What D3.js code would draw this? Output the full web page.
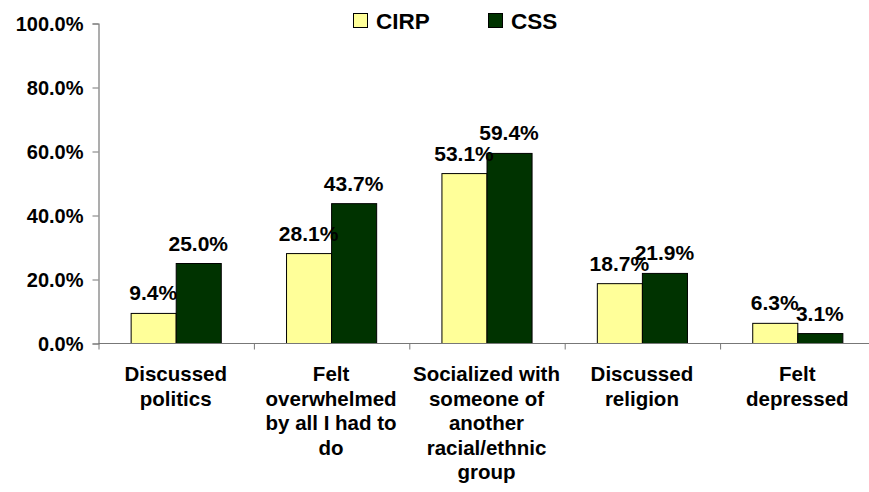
<!DOCTYPE html>
<html>
<head>
<meta charset="utf-8">
<script src="https://cdn.jsdelivr.net/npm/d3@7"></script>
<style>
  html, body { margin: 0; padding: 0; background: #fff; }
  svg text { font-family: Arial, "Liberation Sans", sans-serif; font-weight: bold; fill: #000; }
</style>
</head>
<body>
<svg id="chart" width="869" height="492"></svg>
<script>
const categories = [
  ["Discussed", "politics"],
  ["Felt", "overwhelmed", "by all I had to", "do"],
  ["Socialized with", "someone of", "another", "racial/ethnic", "group"],
  ["Discussed", "religion"],
  ["Felt", "depressed"]
];
const seriesNames = ["CIRP", "CSS"];
const cirpValues = [9.4, 28.1, 53.1, 18.7, 6.3];
const cssValues = [25.0, 43.7, 59.4, 21.9, 3.1];
const yTicks = [0, 20, 40, 60, 80, 100];
const colors = ["#FFFF99", "#003300"];

const svg = d3.select("#chart");
const plotLeft = 98, plotRight = 875, plotTop = 23, plotBottom = 343;

const x = d3.scaleBand().domain(d3.range(categories.length)).range([plotLeft, plotRight])
  .paddingInner(0.42).paddingOuter(0.21);
const xEdge = d3.scaleLinear().domain([0, categories.length]).range([plotLeft, plotRight]);
const xSub = d3.scaleBand().domain(seriesNames).range([0, x.bandwidth()]);
const y = d3.scaleLinear().domain([0, 100]).range([plotBottom, plotTop]);

const data = categories.map((c, i) => ({i, values: [cirpValues[i], cssValues[i]]}));

// bars
const groups = svg.append("g").selectAll("g").data(data).join("g")
  .attr("transform", d => `translate(${x(d.i)},0)`);
groups.selectAll("rect").data(d => d.values.map((v, k) => ({v, k})))
  .join("rect")
  .attr("x", d => xSub(seriesNames[d.k]) + 0.5)
  .attr("y", d => y(d.v) + 0.5)
  .attr("width", xSub.bandwidth())
  .attr("height", d => y(0) - y(d.v))
  .attr("fill", d => colors[d.k])
  .attr("stroke", "#000")
  .attr("stroke-width", 1);

// y axis
const yAxis = d3.axisLeft(y).tickValues(yTicks).tickSize(6).tickPadding(9)
  .tickFormat(d => d.toFixed(1) + "%");
const gy = svg.append("g").attr("transform", `translate(${plotLeft + 0.5},0.5)`).call(yAxis);
gy.select(".domain").attr("stroke", "#777").attr("stroke-width", 1.2);
gy.selectAll(".tick line").attr("stroke", "#777");
gy.selectAll(".tick text").style("font-size", "20px").attr("dy", "0.35em")
  .style("font-family", "Arial, 'Liberation Sans', sans-serif").style("font-weight", "bold");

// x axis line & ticks at category boundaries
const xAxis = d3.axisBottom(xEdge).tickValues(d3.range(categories.length + 1))
  .tickSize(6).tickFormat("");
const gx = svg.append("g").attr("transform", `translate(0.5,${plotBottom + 0.5})`).call(xAxis);
gx.select(".domain").attr("stroke", "#777").attr("stroke-width", 1.2)
  .attr("d", `M${plotLeft},0H${plotRight}`);
gx.selectAll(".tick line").attr("stroke", "#777");

// category labels
const catG = svg.append("g").selectAll("text").data(categories).join("text")
  .attr("text-anchor", "middle")
  .style("font-size", "20.5px");
catG.each(function(lines, i) {
  const t = d3.select(this);
  lines.forEach((ln, j) => {
    t.append("tspan").attr("x", x(i) + x.bandwidth() / 2).attr("y", 381 + j * 24.6).text(ln);
  });
});

// value labels
groups.selectAll("text.val").data(d => d.values.map((v, k) => ({v, k})))
  .join("text").attr("class", "val")
  .attr("text-anchor", "middle")
  .attr("x", d => xSub(seriesNames[d.k]) + xSub.bandwidth() / 2)
  .attr("y", d => y(d.v) - 12.5)
  .style("font-size", "21px")
  .text(d => d.v.toFixed(1) + "%");

// legend
const legendX = [353, 488];
const leg = svg.append("g").selectAll("g").data(seriesNames).join("g")
  .attr("transform", (d, k) => `translate(${legendX[k]},13)`);
leg.append("rect").attr("x", 0.5).attr("y", 0.5).attr("width", 14).attr("height", 14)
  .attr("fill", (d, k) => colors[k]).attr("stroke", "#000");
leg.append("text").attr("x", 23).attr("y", 15.5).style("font-size", "22.5px").text(d => d);
</script>
</body>
</html>
